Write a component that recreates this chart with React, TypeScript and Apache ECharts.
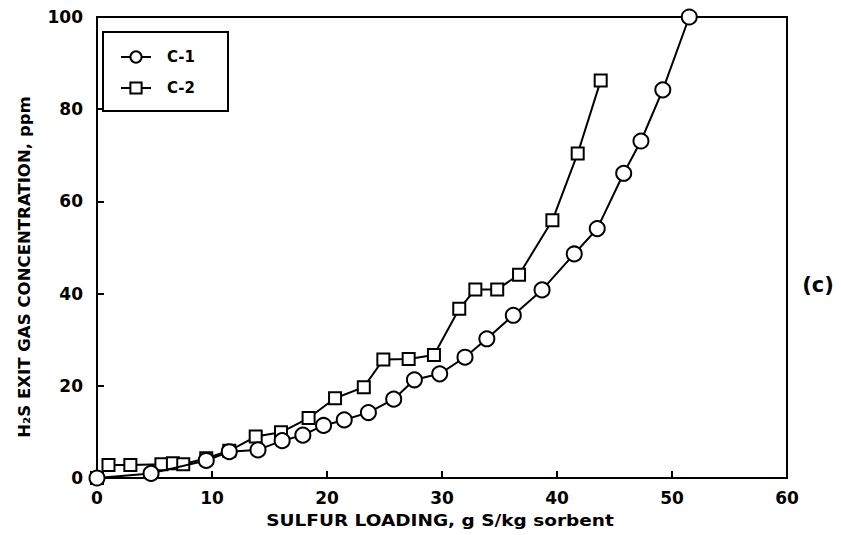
import React, { useEffect, useRef } from "react";
import * as echarts from "echarts";

// Sulfur loading (g S/kg sorbent) vs. H2S exit gas concentration (ppm)
const c1Loading = [0, 4.7, 9.5, 11.5, 14.0, 16.1, 17.9, 19.7, 21.5, 23.6, 25.8, 27.6, 29.8, 32.0, 33.9, 36.2, 38.7, 41.5, 43.5, 45.8, 47.3, 49.2, 51.5];
const c1Conc = [0, 1.0, 3.8, 5.7, 6.1, 8.1, 9.3, 11.4, 12.6, 14.2, 17.1, 21.3, 22.6, 26.2, 30.2, 35.3, 40.8, 48.6, 54.1, 66.1, 73.1, 84.2, 100];

const c2Loading = [0, 1.0, 2.9, 5.6, 6.6, 7.5, 9.5, 11.5, 13.8, 16.0, 18.4, 20.7, 23.2, 24.9, 27.1, 29.3, 31.5, 32.9, 34.8, 36.7, 39.6, 41.8, 43.8];
const c2Conc = [0, 2.8, 2.8, 3.0, 3.2, 3.0, 4.3, 5.9, 9.0, 9.9, 13.0, 17.3, 19.7, 25.7, 25.8, 26.7, 36.7, 40.9, 40.9, 44.1, 55.9, 70.4, 86.2];

const seriesNames = ["C-1", "C-2"];
const xTicks = [0, 60, 10];
const yTicks = [0, 100, 20];

const xTitle = "SULFUR LOADING, g S/kg sorbent";
const yTitle = "H₂S EXIT GAS CONCENTRATION, ppm";
const panelTag = "(c)";

const FONT = "'DejaVu Sans', 'Liberation Sans', Arial, sans-serif";

// horizontal stretch that makes a string span a given length
function stretchTo(text: string, font: string, target: number): number {
  const ctx = document.createElement("canvas").getContext("2d");
  if (!ctx) return 1;
  ctx.font = font;
  const w = ctx.measureText(text).width;
  return w > 0 ? target / w : 1;
}

export default function App() {
  const ref = useRef<HTMLDivElement>(null);

  useEffect(() => {
    if (!ref.current) return;
    const chart = echarts.init(ref.current, undefined, { renderer: "svg" });
    const pts = (xs: number[], ys: number[]) => xs.map((x, i) => [x, ys[i]]);
    const markerStyle = { color: "#fff", borderColor: "#000", borderWidth: 2 };

    const yTitleFont = `bold 15px ${FONT}`;
    const xTitleFont = `bold 16px ${FONT}`;

    chart.setOption({
      animation: false,
      backgroundColor: "#fff",
      grid: {
        left: 97,
        top: 17,
        width: 690,
        height: 461,
        show: true,
        borderColor: "#000",
        borderWidth: 2,
        backgroundColor: "transparent",
      },
      xAxis: {
        type: "value",
        min: xTicks[0],
        max: xTicks[1],
        interval: xTicks[2],
        axisLine: { show: true, lineStyle: { color: "#000", width: 2 } },
        axisTick: { show: true, inside: true, length: 7, lineStyle: { color: "#000", width: 2 } },
        axisLabel: { color: "#000", fontSize: 17, fontWeight: "bold", fontFamily: FONT, margin: 11 },
        splitLine: { show: false },
      },
      yAxis: {
        type: "value",
        min: yTicks[0],
        max: yTicks[1],
        interval: yTicks[2],
        axisLine: { show: true, lineStyle: { color: "#000", width: 2 } },
        axisTick: { show: true, inside: true, length: 7, lineStyle: { color: "#000", width: 2 } },
        axisLabel: { color: "#000", fontSize: 17, fontWeight: "bold", fontFamily: FONT, margin: 14 },
        splitLine: { show: false },
      },
      legend: {
        show: true,
        orient: "vertical",
        left: 103,
        top: 32,
        padding: [17, 33, 15, 17],
        itemGap: 15,
        itemWidth: 30,
        itemHeight: 14,
        borderColor: "#000",
        borderWidth: 2,
        textStyle: {
          color: "#000",
          fontSize: 15,
          lineHeight: 16,
          fontWeight: "bold",
          fontFamily: FONT,
          padding: [0, 0, 0, 11],
        },
        data: seriesNames,
      },
      graphic: [
        {
          type: "text",
          x: 25,
          y: 267,
          rotation: Math.PI / 2,
          scaleX: stretchTo(yTitle, yTitleFont, 342),
          style: {
            text: yTitle,
            fill: "#000",
            font: yTitleFont,
            align: "center",
            verticalAlign: "middle",
          },
        },
        {
          type: "text",
          x: 440,
          y: 520,
          scaleX: stretchTo(xTitle, xTitleFont, 348),
          style: {
            text: xTitle,
            fill: "#000",
            font: xTitleFont,
            align: "center",
            verticalAlign: "middle",
          },
        },
        {
          type: "text",
          x: 818,
          y: 285,
          style: {
            text: panelTag,
            fill: "#000",
            font: `bold 21px ${FONT}`,
            align: "center",
            verticalAlign: "middle",
          },
        },
      ],
      series: [
        {
          name: seriesNames[0],
          type: "line",
          data: pts(c1Loading, c1Conc),
          symbol: "circle",
          symbolSize: 15,
          lineStyle: { color: "#000", width: 2 },
          itemStyle: markerStyle,
          z: 3,
        },
        {
          name: seriesNames[1],
          type: "line",
          data: pts(c2Loading, c2Conc),
          symbol: "rect",
          symbolSize: 12,
          lineStyle: { color: "#000", width: 2 },
          itemStyle: markerStyle,
          z: 2,
        },
      ],
    });

    return () => chart.dispose();
  }, []);

  return (
    <div
      ref={ref}
      style={{ position: "absolute", left: 0, top: 0, width: 841, height: 535 }}
    />
  );
}
